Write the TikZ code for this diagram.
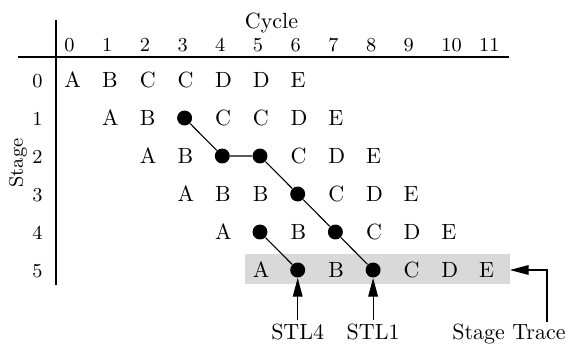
\documentclass[tikz,border=0pt]{standalone}
\usetikzlibrary{arrows.meta}
\begin{document}
\begin{tikzpicture}[x=0.4545pt,y=-0.4545pt,
  letter/.style={anchor=base west,inner sep=0pt,font=\normalsize},
  hdr/.style={anchor=base west,inner sep=0pt,font=\small},
  stg/.style={anchor=base east,inner sep=0pt,font=\small},
  dot/.style={circle,fill=black,inner sep=0pt,minimum size=6.8pt},
  link/.style={line width=0.5pt},
  axis/.style={line width=0.7pt},
  pointer/.style={line width=0.5pt,-{Triangle[length=8.5pt,width=4.4pt]}},
  lbl/.style={anchor=base,inner sep=1.5pt,font=\normalsize}]
\useasboundingbox (0,0) rectangle (570,356);
% highlighted stage trace band
\fill[black!15] (245,254) rectangle (510,284);
% axes
\draw[axis] (56,20) -- (56,285);
\draw[axis] (18,57) -- (509,57);
\node[anchor=base,inner sep=0pt] (cycle) at (271.5,28) {Cycle};
\node[rotate=90,font=\small,inner sep=0pt] (stage) at (18,163) {Stage};
% headers
\foreach \c in {0,...,11}
  \node[hdr] (h\c) at ({64+37.7*\c},51.5) {\c};
\foreach \r in {0,...,5}
  \node[stg] (s\r) at (43,{87+38*\r}) {\r};
% letters
\foreach \r/\c/\t in {0/0/A,0/1/B,0/2/C,0/3/C,0/4/D,0/5/D,0/6/E,
  1/1/A,1/2/B,1/4/C,1/5/C,1/6/D,1/7/E,
  2/2/A,2/3/B,2/6/C,2/7/D,2/8/E,
  3/3/A,3/4/B,3/5/B,3/7/C,3/8/D,3/9/E,
  4/4/A,4/6/B,4/8/C,4/9/D,4/10/E,
  5/5/A,5/7/B,5/9/C,5/10/D,5/11/E}
  \node[letter] (l\r-\c) at ({64+37.7*\c},{87+38*\r}) {\t};
% stall dots
\node[dot] (d13) at ({64+37.7*3+7.5},{87+38*1-7}) {};
\node[dot] (d24) at ({64+37.7*4+7.5},{87+38*2-7}) {};
\node[dot] (d25) at ({64+37.7*5+7.5},{87+38*2-7}) {};
\node[dot] (d36) at ({64+37.7*6+7.5},{87+38*3-7}) {};
\node[dot] (d45) at ({64+37.7*5+7.5},{87+38*4-7}) {};
\node[dot] (d47) at ({64+37.7*7+7.5},{87+38*4-7}) {};
\node[dot] (d56) at ({64+37.7*6+7.5},{87+38*5-7}) {};
\node[dot] (d58) at ({64+37.7*8+7.5},{87+38*5-7}) {};
\draw[link] (d13) -- (d24) -- (d25) -- (d36) -- (d47) -- (d58);
\draw[link] (d45) -- (d56);
% labels and pointers
\node[lbl] (stl4) at ({64+37.7*6+7.5},339) {STL4};
\node[lbl] (stl1) at ({64+37.7*8+7.5},339) {STL1};
\node[lbl] (trace) at (509,339) {Stage Trace};
\draw[pointer] (stl4.north) -- (d56);
\draw[pointer] (stl1.north) -- (d58);
\coordinate (tb) at (547,322);
\coordinate (tc) at (547,270);
\coordinate (tt) at (510,270);
\draw[pointer] (tb) -- (tc) -- (tt);
\end{tikzpicture}
\end{document}
